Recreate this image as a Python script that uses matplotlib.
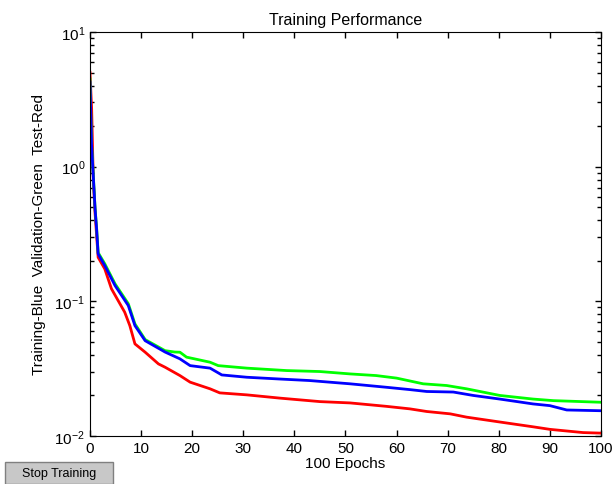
import matplotlib.pyplot as plt
from matplotlib.patches import Rectangle
from matplotlib.ticker import LogLocator, NullFormatter

plt.rcParams['font.family'] = ['Liberation Sans', 'DejaVu Sans']

# Odczytane wartości (epoka, błąd)
train_ep = [0, 0.3, 0.65, 1.0, 1.3, 1.6, 2.9, 4.9, 7.5, 8.8, 10.8, 14.7, 17.6,
            19.6, 23.5, 25.8, 30.7, 37, 43, 50.9, 58, 62.6, 65.9, 71.1, 75,
            80.2, 86.7, 90, 93.3, 100]
train_val = [4.25, 1.48, 0.85, 0.485, 0.344, 0.225, 0.184, 0.131, 0.093, 0.066,
             0.051, 0.042, 0.0374, 0.0333, 0.0319, 0.0284, 0.0273, 0.0265,
             0.0258, 0.0244, 0.0230, 0.0221, 0.0214, 0.0212, 0.0200, 0.0188,
             0.0173, 0.0168, 0.0156, 0.0154]

valid_ep = [0, 0.3, 0.65, 1.0, 1.3, 1.6, 2.9, 4.9, 7.5, 8.8, 10.8, 14.7, 16.6,
            17.6, 18.9, 23.5, 25.1, 30.7, 38.5, 45, 50.9, 56, 60, 65.2, 69.8,
            73.7, 80.2, 86.7, 90.7, 100]
valid_val = [4.48, 1.5, 0.87, 0.49, 0.35, 0.23, 0.19, 0.135, 0.096, 0.068,
             0.052, 0.043, 0.042, 0.0419, 0.0385, 0.0353, 0.0333, 0.0319,
             0.0306, 0.0301, 0.0289, 0.0281, 0.0269, 0.0244, 0.0237, 0.0224,
             0.0200, 0.0188, 0.0183, 0.0178]

test_ep = [0, 0.33, 0.65, 1.0, 1.6, 2.9, 4.2, 6.8, 7.8, 8.8, 10.8, 13.4, 14.7,
           17.6, 19.6, 23.5, 25.4, 30.7, 37.2, 45, 50.9, 58, 62.6, 65.9, 70.5,
           73.7, 80.2, 86.7, 90, 96.5, 100]
test_val = [5.02, 2.68, 0.8, 0.45, 0.212, 0.174, 0.124, 0.083, 0.066, 0.0483,
            0.0419, 0.0343, 0.0324, 0.0281, 0.0251, 0.0224, 0.0209, 0.0202,
            0.0191, 0.0180, 0.0176, 0.0166, 0.0159, 0.0152, 0.0146, 0.0138,
            0.0127, 0.0117, 0.0112, 0.0106, 0.0105]

fig = plt.figure(figsize=(6.12, 4.85), dpi=100)
ax = fig.add_axes([0.147, 0.099, 0.835, 0.833])

ax.semilogy(test_ep, test_val, color=(1, 0, 0), linewidth=2)
ax.semilogy(valid_ep, valid_val, color=(0, 1, 0), linewidth=2)
ax.semilogy(train_ep, train_val, color=(0, 0, 1), linewidth=2)

ax.set_xlim(0, 100)
ax.set_ylim(1e-2, 10)
ax.set_xticks(range(0, 101, 10))
ax.yaxis.set_major_locator(LogLocator(base=10, numticks=10))
ax.yaxis.set_minor_locator(LogLocator(base=10, subs=range(2, 10), numticks=10))
ax.yaxis.set_minor_formatter(NullFormatter())
ax.tick_params(which='both', direction='in', top=True, right=True,
               labelsize=11, width=1)
ax.tick_params(which='major', length=4)
ax.tick_params(which='minor', length=3)

ax.set_title("Training Performance", fontsize=11.5, pad=6)
ax.set_xlabel("100 Epochs", fontsize=11, labelpad=1)
ax.set_ylabel("Training-Blue  Validation-Green  Test-Red", fontsize=11,
              labelpad=6)

# Przycisk "Stop Training"
fig.patches.append(Rectangle((5 / 612, 0), 108 / 612, 22 / 485,
                             transform=fig.transFigure, facecolor='#c8c8c8',
                             edgecolor='#808080', linewidth=1))
fig.text(59 / 612, 11 / 485, "Stop Training", ha='center', va='center',
         fontsize=9)

fig.savefig("out.png", dpi=100)
